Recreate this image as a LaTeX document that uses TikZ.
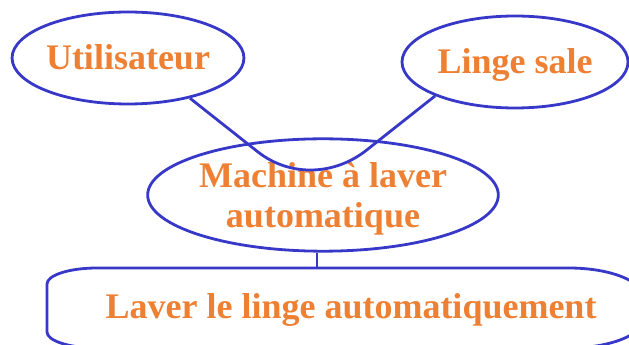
\documentclass[tikz,border=0pt]{standalone}
\usepackage{fontspec}
\setmainfont{Liberation Serif}
\usetikzlibrary{shapes.geometric}
\definecolor{lineblue}{RGB}{56,56,200}
\definecolor{textorange}{RGB}{238,128,52}
\begin{document}
\begin{tikzpicture}[x=1pt,y=1pt,
  lineb/.style={draw=lineblue, line width=2.8pt},
  txt/.style={text=textorange, font=\bfseries\fontsize{36}{40}\selectfont},
  bubble/.style={ellipse, lineb, txt, inner sep=0pt},
  oneline/.style={text height=24pt, text depth=0pt}
]
\useasboundingbox (0,0) rectangle (629,345);
\fill[white] (0,0) rectangle (629,345);

\node[bubble, oneline, minimum width=230pt, minimum height=92pt] (util) at (128,287) {Utilisateur};
\node[bubble, oneline, minimum width=226pt, minimum height=92pt] (linge) at (515,283) {Linge sale};
\node[bubble, align=center, minimum width=334pt, minimum height=86pt] (machine) at (323,150) {\rule{0pt}{31.8pt}Machine à laver\\automatique};

% bottom function box (cut by the picture edge)
\draw[lineb] (47,13) -- (47,61) arc[start angle=180, end angle=90, x radius=50pt, y radius=16pt]
  -- (569,77) arc[start angle=90, end angle=0, x radius=75pt, y radius=30pt]
  -- (644,27) arc[start angle=0, end angle=-90, x radius=75pt, y radius=30pt]
  -- (97,-3) arc[start angle=270, end angle=180, x radius=50pt, y radius=16pt] -- cycle;
\node[txt, oneline, inner sep=0pt] (laver) at (351,38.5) {Laver le linge automatiquement};

% connectors
\coordinate (hornL) at (258,193);
\coordinate (hornR) at (368,196);
\draw[lineb, line join=round] (util.-33.5) -- (hornL) .. controls (290,168) and (335,169) .. (hornR) -- (linge.-157);
\coordinate (lavertop) at ([xshift=-6pt]machine.south |- 0,77);
\draw[lineb] ([xshift=-6pt]machine.south) -- (lavertop);
\end{tikzpicture}
\end{document}
